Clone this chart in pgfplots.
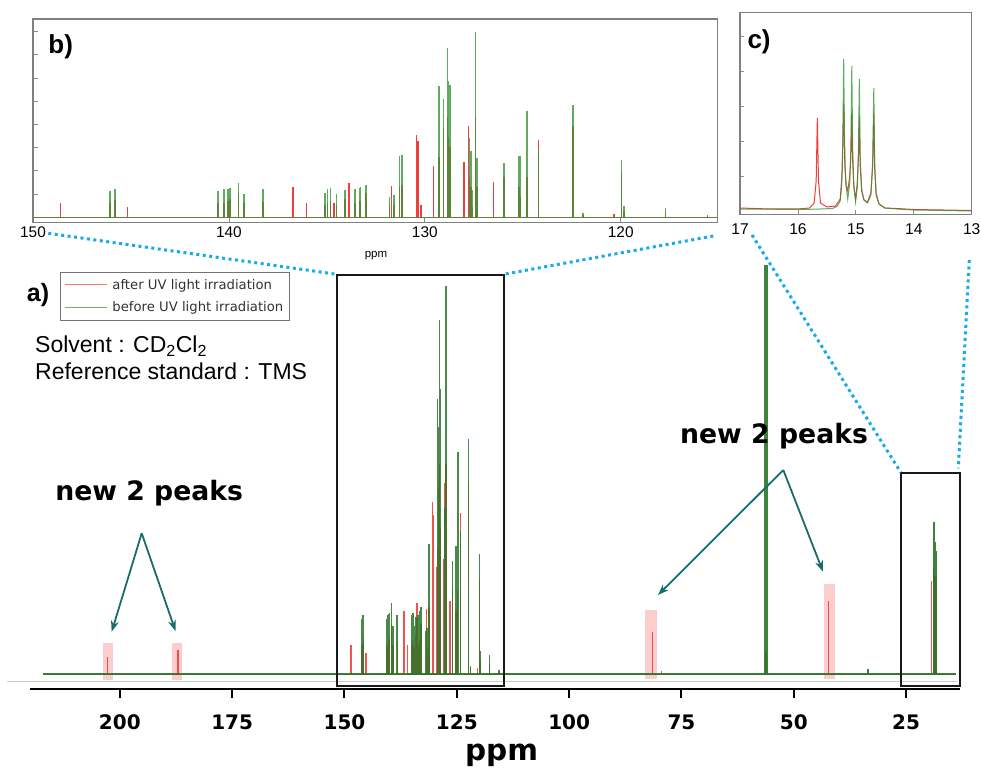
\documentclass[border=0pt]{standalone}
\usepackage{fontspec}
\setmainfont{Liberation Sans}
\newfontfamily\dejavu{DejaVu Sans}
\usepackage{pgfplots}
\usepackage{pgfplotstable}
\pgfplotsset{compat=1.18}
\usetikzlibrary{arrows.meta}

\definecolor{specred}{RGB}{238,62,62}
\definecolor{specgreen}{RGB}{55,150,55}
\definecolor{maingreen}{RGB}{40,118,40}
\definecolor{legred}{RGB}{240,120,120}
\definecolor{leggreen}{RGB}{115,180,115}
\definecolor{pinkbox}{RGB}{251,205,205}
\definecolor{dotblue}{RGB}{25,170,235}
\definecolor{arrowteal}{RGB}{25,108,108}

% aromatic region (heights in inset-b pixel units)
\pgfplotstableread{
ppm g r
148.59 0 14
146.07 26 14
145.82 28 17
145.17 0 10
140.55 26 14
140.26 28 14
140.05 28.6 16
139.95 29 18
139.52 34 24
139.23 23 14
138.25 28 15.6
136.72 0 30
136.04 0 14
135.09 24 12
134.97 28 14
134.81 29 16
134.63 0 14
134.50 23 12
134.08 27 18
133.86 0 34
133.57 28 14
133.32 29.6 16
133.27 30 15
133.01 32 24
131.79 20.6 12
131.70 0 31
131.58 22 12
131.28 61 30
131.16 62 32
130.42 0 82
130.34 0 76
130.20 0 12
129.57 0 51
129.27 131 60
129.06 118 89
128.84 169 100
128.79 136 80
128.71 132 70
128.01 0 55
127.76 0 91
127.72 79 40
127.65 66 30
127.57 27 10
127.42 185 100
127.33 59 30
126.48 0 35
125.96 54 40
125.19 61 30
125.12 61 20
124.78 106 40
124.20 68 77
122.43 112 91
121.92 4 2
120.34 0 3
119.96 57 45
119.83 11 6
117.70 9 5
115.58 2 1
}\arom

% other peaks of the full spectrum (same height units)
\pgfplotstableread{
ppm g r
202.8 0 8
187.1 0 11.4
81.4 0 20
79.5 0 1.5
56.2 0 10
42.3 0 34.8
33.5 2.4 0
19.32 0 44.3
18.86 72.4 51
18.72 69 46.7
18.59 62.9 44.8
18.34 58.6 46.7
}\other

\pgfplotstableread{
ppm y
17.0 2
16.5 1.8
16.0 1.5
15.7 1.8
15.4 2.5
15.32 5
15.27 10
15.245 25
15.225 70
15.21 152
15.195 70
15.175 28
15.14 12
15.105 28
15.085 68
15.07 145
15.055 62
15.035 26
15.005 9
14.975 24
14.955 60
14.94 132
14.925 55
14.90 22
14.86 11
14.80 8
14.74 16
14.71 48
14.69 123
14.675 48
14.65 18
14.60 7
14.50 3
14.30 2
14.00 1
13.50 0.5
13.00 0
}\cgreen

\pgfplotstableread{
ppm y
17.0 3
16.5 2
16.0 2
15.8 3
15.72 8
15.685 30
15.665 93
15.645 30
15.61 8
15.50 4
15.35 5
15.27 12
15.235 40
15.21 107
15.19 45
15.165 25
15.14 20
15.105 35
15.085 55
15.07 98
15.055 50
15.035 24
15.005 12
14.975 28
14.955 55
14.94 94
14.925 45
14.90 20
14.86 11
14.80 9
14.74 18
14.71 45
14.69 98
14.675 42
14.65 16
14.60 7
14.50 3
14.30 2.5
14.00 1.5
13.50 1
13.00 0.5
}\cred

\begin{document}
\begin{tikzpicture}[x=1bp,y=1bp]
\useasboundingbox (0,0) rectangle (981,773);
\coordinate (mainpos) at (30,84);
\coordinate (bpos) at (33,550.3);
\coordinate (cpos) at (740,558.7);

% ---------------- main spectrum ----------------
\begin{axis}[
  at={(mainpos)}, anchor=south west,
  scale only axis, width=930bp, height=424bp,
  xmin=13, xmax=220, x dir=reverse,
  ymin=-7.14, ymax=195,
  axis x line=bottom, axis y line=none,
  x axis line style={-, line width=2bp, black},
  xtick={25,50,75,100,125,150,175,200},
  tick align=outside, major tick length=9bp,
  major tick style={line width=2bp, black},
  /pgf/number format/assume math mode=true,
  xticklabel style={font=\dejavu\bfseries\fontsize{20bp}{24bp}\selectfont, yshift=-13bp},
  xlabel={ppm},
  xlabel style={font=\dejavu\bfseries\fontsize{29.5bp}{34bp}\selectfont,
    at={(axis description cs:0.5071,0)}, anchor=base, yshift=-71.7bp},
  clip=false,
  legend style={at={(0.03226,0.9842)}, anchor=north west, draw=black!55,
    line width=1bp, fill=white, text=black!80,
    font=\dejavu\fontsize{13.2bp}{15bp}\selectfont,
    inner xsep=4bp, inner ysep=5bp, row sep=7bp,
    /tikz/every odd column/.append style={column sep=3bp}},
  legend cell align=left,
  legend image code/.code={\draw[#1] (0bp,0bp) -- (42bp,0bp);},
]
\addlegendimage{legred, line width=1bp}
\addlegendentry{after UV light irradiation}
\addlegendimage{leggreen, line width=1bp}
\addlegendentry{before UV light irradiation}

% reference line
\addplot[forget plot, black!20, line width=0.8bp] coordinates {(225.1,-3.3) (13.6,-3.3)};
% highlight boxes
\addplot[forget plot, fill=pinkbox, draw=none] coordinates {(203.75,-2.9) (201.5,-2.9) (201.5,14.8) (203.75,14.8)} -- cycle;
\addplot[forget plot, fill=pinkbox, draw=none] coordinates {(188.4,-2.9) (186.2,-2.9) (186.2,14.8) (188.4,14.8)} -- cycle;
\addplot[forget plot, fill=pinkbox, draw=none] coordinates {(83.1,-2.4) (80.4,-2.4) (80.4,30.5) (83.1,30.5)} -- cycle;
\addplot[forget plot, fill=pinkbox, draw=none] coordinates {(43.3,-2.4) (40.8,-2.4) (40.8,42.9) (43.3,42.9)} -- cycle;

% after (red)
\addplot[forget plot, specred, line width=1bp] coordinates {(217,0) (14,0)};
\addplot[forget plot, ycomb, specred, line width=1.4bp, opacity=0.9] table[x=ppm, y=r] {\arom};
\addplot[forget plot, ycomb, specred, line width=1.4bp, opacity=0.9] table[x=ppm, y=r] {\other};
% before (green)
\addplot[forget plot, maingreen, line width=2bp, opacity=0.9] coordinates {(217,0) (14,0)};
\addplot[forget plot, ycomb, maingreen, line width=1.7bp, opacity=0.85] table[x=ppm, y=g] {\arom};
\addplot[forget plot, ycomb, maingreen, line width=1.9bp, opacity=0.9] table[x=ppm, y=g] {\other};
% solvent peak (CD2Cl2), runs to the top
\addplot[forget plot, ycomb, maingreen, line width=3.5bp, opacity=0.9] coordinates {(56.2,195)};

% zoom boxes
\draw[black!90, line width=2bp] (axis cs:151.74,-5.71) rectangle (axis cs:114.5,190.3);
\draw[black!90, line width=2bp] (axis cs:26.2,-5.71) rectangle (axis cs:13.0,96.0);
\end{axis}

% ---------------- inset b ----------------
\begin{axis}[
  at={(bpos)}, anchor=south west,
  scale only axis, width=684.7bp, height=203.7bp,
  xmin=115.05, xmax=150, x dir=reverse,
  ymin=-5.4, ymax=198.3,
  axis background/.style={fill=white},
  axis line style={black!50, line width=1.2bp},
  xtick={120,130,140,150},
  ytick={23.2,46.4,69.6,92.8,116,139.2,162.4,185.6},
  yticklabels={},
  tick pos=left, tick align=inside, major tick length=5bp,
  major tick style={black!45, line width=0.8bp},
  xticklabel style={font=\fontsize{15.4bp}{18bp}\selectfont, yshift=-1bp},
  /pgf/number format/assume math mode=true,
  xlabel={ppm},
  xlabel style={font=\fontsize{11.5bp}{13bp}\selectfont,
    at={(axis description cs:0.501,0)}, anchor=base, yshift=-35bp},
]
\addplot[specred, line width=0.9bp] coordinates {(150,0) (115.05,0)};
\addplot[ycomb, specred, line width=1.4bp] table[x=ppm, y=r] {\arom};
\addplot[specgreen, line width=0.9bp, opacity=0.75] coordinates {(150,0) (115.05,0)};
\addplot[ycomb, specgreen, line width=1.4bp, opacity=0.8] table[x=ppm, y=g] {\arom};
\end{axis}

% ---------------- inset c ----------------
\begin{axis}[
  at={(cpos)}, anchor=south west,
  scale only axis, width=231.7bp, height=201.6bp,
  xmin=13, xmax=17, x dir=reverse,
  ymin=-3.3, ymax=198.3,
  axis background/.style={fill=white},
  axis line style={black!50, line width=1.2bp},
  xtick={13,14,15,16,17},
  ytick={35,70,105,140,175},
  yticklabels={},
  tick pos=left, tick align=inside, major tick length=4bp,
  major tick style={black!45, line width=0.8bp},
  xticklabel style={font=\fontsize{15.6bp}{18bp}\selectfont, yshift=-6bp},
  /pgf/number format/assume math mode=true,
]
\addplot[specred, line width=1bp] table[x=ppm, y=y] {\cred};
\addplot[specgreen, line width=1bp, opacity=0.8] table[x=ppm, y=y] {\cgreen};
\end{axis}

% ---------------- annotations ----------------
\draw[dotblue, line width=3bp, dash pattern=on 3bp off 3.5bp] (48.3,539.7) -- (336.7,498.7);
\draw[dotblue, line width=3bp, dash pattern=on 3bp off 3.5bp] (713.3,537) -- (504,498.7);
\draw[dotblue, line width=3bp, dash pattern=on 3bp off 3.5bp] (752,538) -- (900.7,300.7);
\draw[dotblue, line width=3bp, dash pattern=on 3bp off 3.5bp] (969.3,513) -- (958.3,304.7);

\draw[arrowteal, line width=1.8bp, -{Stealth[length=11bp,width=8bp]}] (141.7,239.7) -- (111.7,141.3);
\draw[arrowteal, line width=1.8bp, -{Stealth[length=11bp,width=8bp]}] (141.7,239.7) -- (175.5,142);
\draw[arrowteal, line width=1.8bp, -{Stealth[length=11bp,width=8bp]}] (783.3,303) -- (658,178);
\draw[arrowteal, line width=1.8bp, -{Stealth[length=11bp,width=8bp]}] (783.3,303) -- (823,201.3);

\node[anchor=base, inner sep=0, font=\dejavu\bfseries\fontsize{26.7bp}{32bp}\selectfont] at (149.2,272.3) {new 2 peaks};
\node[anchor=base, inner sep=0, font=\dejavu\bfseries\fontsize{26.7bp}{32bp}\selectfont] at (774,329.7) {new 2 peaks};

\node[anchor=base west, inner sep=0, font=\bfseries\fontsize{25bp}{30bp}\selectfont] at (26.7,471.3) {a)};
\node[anchor=base west, inner sep=0, font=\bfseries\fontsize{26bp}{30bp}\selectfont] at (48.3,719.7) {b)};
\node[anchor=base west, inner sep=0, font=\bfseries\fontsize{26bp}{30bp}\selectfont] at (747.3,724.7) {c)};

\node[anchor=base west, inner sep=0, font=\fontsize{23bp}{27bp}\selectfont] at (35,420.3) {Solvent : CD\textsubscript{2}Cl\textsubscript{2}};
\node[anchor=base west, inner sep=0, font=\fontsize{23bp}{27bp}\selectfont] at (35,393) {Reference standard : TMS};
\end{tikzpicture}
\end{document}
